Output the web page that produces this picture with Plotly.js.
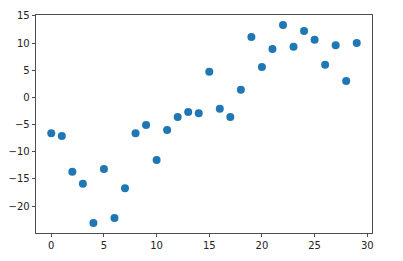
<!DOCTYPE html>
<html>
<head>
<meta charset="utf-8">
<script src="https://cdn.plot.ly/plotly-3.0.1.min.js"></script>
<style>html,body{margin:0;padding:0;background:#fff;}#chart{width:403px;height:261px;}</style>
</head>
<body>
<div id="chart"></div>
<script>
const xValues = [0,1,2,3,4,5,6,7,8,9,10,11,12,13,14,15,16,17,18,19,20,21,22,23,24,25,26,27,28,29];
const yValues = [-6.6,-7.1,-13.7,-15.9,-23.1,-13.2,-22.2,-16.7,-6.6,-5.1,-11.5,-6.0,-3.6,-2.7,-2.9,4.7,-2.1,-3.6,1.4,11.1,5.6,8.9,13.3,9.3,12.2,10.6,6.0,9.6,3.0,10.0];
const xTicks = [0,5,10,15,20,25,30];
const yTicks = [-20,-15,-10,-5,0,5,10,15];

const axisCommon = {
  showgrid: false, zeroline: false, showline: true, mirror: true,
  linecolor: '#222', linewidth: 0.8,
  ticks: 'outside', ticklen: 3.5, tickwidth: 0.8, tickcolor: '#222',
  tickfont: {family: 'DejaVu Sans', size: 10, color: '#222'}
};

Plotly.newPlot('chart', [{
  x: xValues, y: yValues, type: 'scatter', mode: 'markers',
  marker: {color: '#1f77b4', size: 8}
}], {
  width: 403, height: 261,
  margin: {l: 36, r: 31.3, t: 15, b: 27.7},
  paper_bgcolor: '#fff', plot_bgcolor: '#fff',
  showlegend: false,
  xaxis: Object.assign({}, axisCommon, {range: [-1.45, 30.45], tickvals: xTicks}),
  yaxis: Object.assign({}, axisCommon, {range: [-24.95, 15.15], tickvals: yTicks})
}, {staticPlot: true, displayModeBar: false});
</script>
</body>
</html>
